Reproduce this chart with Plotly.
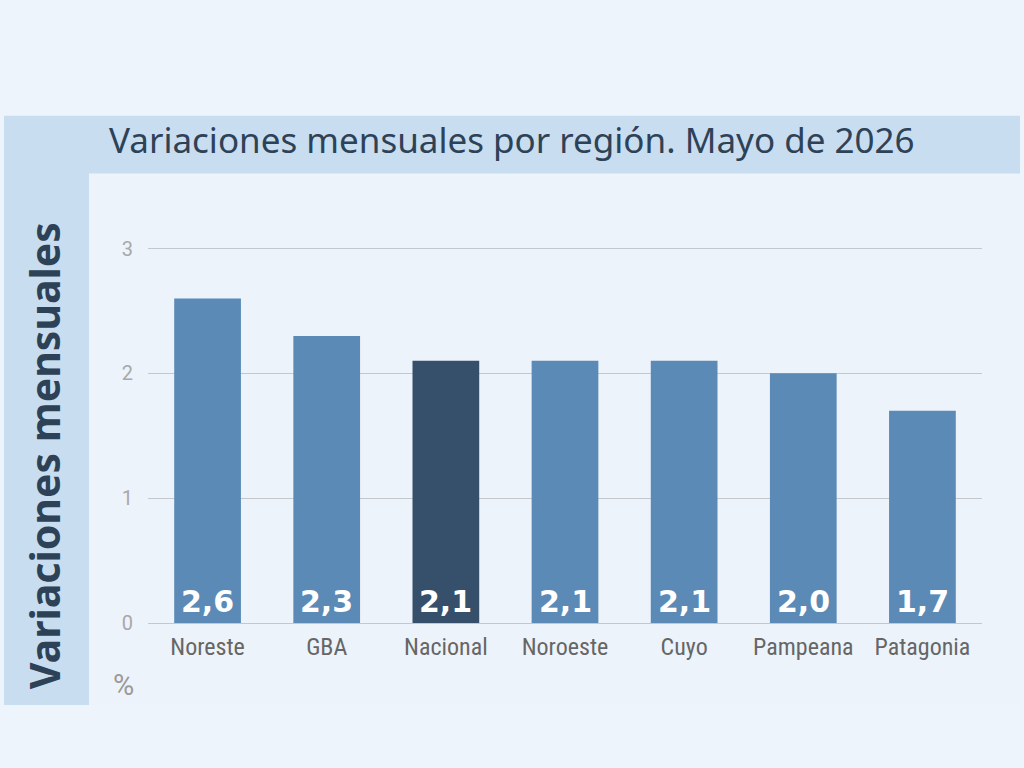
import plotly.graph_objects as go

categories = ["Noreste", "GBA", "Nacional", "Noroeste", "Cuyo", "Pampeana", "Patagonia"]
values = [2.6, 2.3, 2.1, 2.1, 2.1, 2.0, 1.7]
value_labels = ["2,6", "2,3", "2,1", "2,1", "2,1", "2,0", "1,7"]
tick_vals = [0, 1, 2, 3]
tick_text = ["0", "1", "2", "3"]
title_text = "Variaciones mensuales por región. Mayo de 2026"
ytitle_text = "Variaciones mensuales"

BAR = "#5b8ab6"
HIGHLIGHT = "#36506b"
colors = [HIGHLIGHT if c == "Nacional" else BAR for c in categories]

W, H = 1024, 768
YMAX = 3.02
L, R, B = 148, 982, 623
T = B - 125 * YMAX  # 125 px per unit


def px(x):
    return (x - L) / (R - L)


def py(y):
    return (B - y) / (B - T)


fig = go.Figure()
fig.add_trace(go.Bar(
    x=categories, y=values, marker_color=colors, marker_line_width=0,
    hoverinfo="skip",
))

annotations = []
for c, v, t in zip(categories, values, value_labels):
    annotations.append(dict(
        x=c, y=0, xref="x", yref="y", text=t, showarrow=False,
        yanchor="bottom", yshift=2,
        font=dict(family="DejaVu Sans, sans-serif", size=30, color="white", weight="bold"),
    ))

annotations.append(dict(
    x=px(107), y=py(139), xref="paper", yref="paper", xanchor="left", yanchor="middle",
    text=title_text, showarrow=False,
    font=dict(family="Noto Sans, sans-serif", size=35, color="#2e4257"),
))
annotations.append(dict(
    x=px(44), y=py(456), xref="paper", yref="paper", xanchor="center", yanchor="middle",
    text=ytitle_text, showarrow=False, textangle=-90,
    font=dict(family="Noto Sans, sans-serif", size=41, color="#2e4257", weight="bold"),
))
annotations.append(dict(
    x=px(123), y=py(685), xref="paper", yref="paper", xanchor="center", yanchor="middle",
    text="%", showarrow=False,
    font=dict(family="Roboto, sans-serif", size=29, color="#9a9a9a"),
))

shapes = [
    dict(type="rect", xref="paper", yref="paper", x0=px(4), x1=px(1020), y0=py(705), y1=py(115),
         fillcolor="#c9ddf0", line_width=0, layer="below"),
    dict(type="rect", xref="paper", yref="paper", x0=px(89), x1=px(1020), y0=py(705), y1=py(173),
         fillcolor="#edf3fa", line_width=0, layer="below"),
]

fig.update_layout(
    width=W, height=H,
    margin=dict(l=L, r=W - R, t=T, b=H - B, pad=0),
    paper_bgcolor="#eef4fb",
    plot_bgcolor="rgba(0,0,0,0)",
    showlegend=False,
    bargap=0.44,
    shapes=shapes,
    annotations=annotations,
    xaxis=dict(
        showgrid=False, showline=False, ticks="", zeroline=False,
        tickfont=dict(family="Liberation Sans Narrow, Roboto Condensed, Roboto, sans-serif", size=24, color="#666666"),
        ticklabelstandoff=7,
    ),
    yaxis=dict(
        range=[0, YMAX], tickvals=tick_vals, ticktext=tick_text,
        showgrid=True, gridcolor="#c4c8cc", gridwidth=1,
        zeroline=True, zerolinecolor="#c4c8cc", zerolinewidth=1,
        showline=False, ticks="",
        tickfont=dict(family="Roboto, sans-serif", size=20, color="#a8a8a8"),
        ticklabelstandoff=14,
    ),
)

fig.write_html("out.html")
